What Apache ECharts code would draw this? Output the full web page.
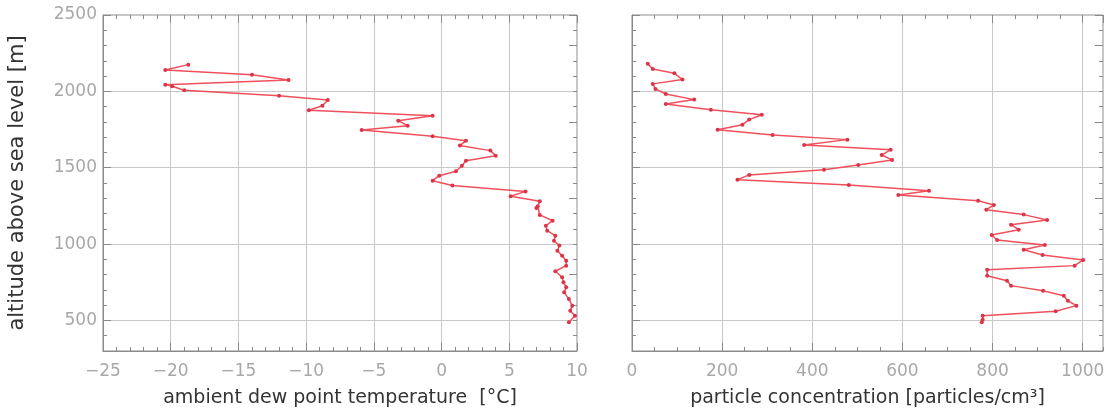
<!DOCTYPE html>
<html>
<head>
<meta charset="utf-8">
<script src="https://cdn.jsdelivr.net/npm/echarts@6/dist/echarts.min.js"></script>
<style>
  html, body { margin: 0; padding: 0; background: #fff; }
  #chart { width: 1110px; height: 414px; }
</style>
</head>
<body>
<div id="chart"></div>
<script>
// left panel: dew point profile
var dewAlt = [2175, 2140, 2109, 2075, 2044, 2033, 2007, 1972, 1944, 1906, 1876, 1841, 1808, 1775, 1747,
  1706, 1677, 1645, 1612, 1579, 1546, 1513, 1477, 1448, 1415, 1383, 1345, 1313, 1280, 1248, 1236, 1191,
  1153, 1120, 1088, 1055, 1022, 990, 957, 924, 891, 859, 822, 783, 750, 717, 684, 640, 597, 563, 531, 488];
var dewTemp = [-18.7, -20.4, -14.0, -11.3, -20.4, -19.9, -19.0, -12.0, -8.4, -8.8, -9.8, -0.66, -3.2, -2.5, -5.9,
  -0.66, 1.8, 1.35, 3.6, 4.0, 1.8, 1.5, 1.06, -0.17, -0.66, 0.8, 6.2, 5.1, 7.25, 7.1, 7.0, 7.25,
  8.2, 7.7, 7.8, 8.4, 8.3, 8.7, 8.55, 8.9, 9.2, 9.2, 8.4, 8.9, 9.0, 9.2, 9.05, 9.4, 9.65, 9.5, 9.85, 9.4];

// right panel: particle concentration profile
var partAlt = [2180, 2147, 2118, 2077, 2049, 2016, 1983, 1946, 1918, 1880, 1847, 1815, 1782, 1749, 1714,
  1684, 1649, 1618, 1583, 1551, 1518, 1487, 1453, 1422, 1387, 1350, 1322, 1284, 1256, 1225, 1193, 1158,
  1127, 1094, 1060, 1027, 994, 963, 929, 896, 859, 832, 793, 760, 728, 695, 662, 629, 597, 560, 531, 505, 488];
var partConc = [35, 46, 94, 112, 46, 52, 75, 138, 75, 175, 288, 260, 245, 190, 312,
  478, 382, 574, 554, 577, 502, 426, 260, 234, 481, 659, 591, 768, 803, 786, 869, 921,
  841, 858, 798, 810, 916, 869, 911, 1001, 982, 788, 788, 832, 841, 912, 958, 967, 986, 940, 778, 778, 776];

var yRange = [300, 2500];
var xLeftRange = [-25, 10];
var xRightRange = [0, 1045];

var labelColor = '#a8a8a8';
var frameColor = '#8a8a8a';
var gridColor = '#c8c8c8';
var fontFam = '"DejaVu Sans", sans-serif';

function pairs(xs, ys) {
  return xs.map(function (x, i) { return [x, ys[i]]; });
}

// axis that only draws inside ticks (minor ticks, and ticks on top / right of the frame)
function tickAxis(grid, pos, range, step, len) {
  return {
    type: 'value', gridIndex: grid, position: pos,
    min: range[0], max: range[1], interval: step,
    axisLine: { show: false, onZero: false },
    axisTick: { show: true, inside: true, length: len, lineStyle: { color: frameColor } },
    axisLabel: { show: false },
    splitLine: { show: false }
  };
}

var xAxes = [], yAxes = [];
[0, 1].forEach(function (g) {
  var xr = g === 0 ? xLeftRange : xRightRange;
  var xs = g === 0 ? 5 : 200;
  var xm = g === 0 ? 1 : 50;
  xAxes.push({
    type: 'value', gridIndex: g, position: 'bottom',
    min: xr[0], max: xr[1], interval: xs,
    name: g === 0 ? 'ambient dew point temperature  [°C]' : 'particle concentration [particles/cm³]',
    nameLocation: 'middle', nameGap: 38,
    nameTextStyle: { color: '#333', fontSize: 19, fontFamily: fontFam },
    axisLine: { show: true, onZero: false, lineStyle: { color: frameColor } },
    axisTick: { show: true, inside: true, length: 8, lineStyle: { color: frameColor } },
    axisLabel: {
      color: labelColor, fontSize: 17, fontFamily: fontFam, margin: 12,
      showMaxLabel: g === 0,
      formatter: function (v) { return v % xs === 0 ? String(v).replace('-', '\u2212') : ''; }
    },
    splitLine: { show: true, lineStyle: { color: gridColor, type: 'solid' } }
  });
  xAxes.push(tickAxis(g, 'top', xr, xs, 8));
  xAxes.push(tickAxis(g, 'bottom', xr, xm, 4));
  xAxes.push(tickAxis(g, 'top', xr, xm, 4));

  yAxes.push({
    type: 'value', gridIndex: g, position: 'left',
    min: yRange[0], max: yRange[1], splitNumber: 4,
    name: g === 0 ? 'altitude above sea level [m]' : '',
    nameLocation: 'middle', nameGap: 75,
    nameTextStyle: { color: '#333', fontSize: 21, fontFamily: fontFam },
    axisLine: { show: true, onZero: false, lineStyle: { color: frameColor } },
    axisTick: { show: true, inside: true, length: 8, lineStyle: { color: frameColor } },
    axisLabel: {
      show: g === 0, color: labelColor, fontSize: 17, fontFamily: fontFam, margin: 6,
      showMinLabel: false,
      formatter: function (v) { return String(v); }
    },
    splitLine: { show: true, lineStyle: { color: gridColor, type: 'solid' } }
  });
  yAxes.push(tickAxis(g, 'right', yRange, 500, 8));
  yAxes.push(tickAxis(g, 'left', yRange, 100, 4));
  yAxes.push(tickAxis(g, 'right', yRange, 100, 4));
});

var lineStyle = { color: '#f0505c', width: 1.5 };
var itemStyle = { color: '#dc3448' };

var myChart = echarts.init(document.getElementById('chart'));
var option = {
  animation: false,
  backgroundColor: '#fff',
  grid: [
    { left: 103, right: 533, top: 15, bottom: 63, show: true, borderColor: frameColor, borderWidth: 1 },
    { left: 632, right: 7, top: 15, bottom: 63, show: true, borderColor: frameColor, borderWidth: 1 }
  ],
  xAxis: xAxes,
  yAxis: yAxes,
  series: [
    {
      type: 'line', xAxisIndex: 0, yAxisIndex: 0,
      data: pairs(dewTemp, dewAlt),
      symbol: 'circle', symbolSize: 4,
      lineStyle: lineStyle, itemStyle: itemStyle
    },
    {
      type: 'line', xAxisIndex: 4, yAxisIndex: 4,
      data: pairs(partConc, partAlt),
      symbol: 'circle', symbolSize: 4,
      lineStyle: lineStyle, itemStyle: itemStyle
    }
  ]
};
myChart.setOption(option);
</script>
</body>
</html>
